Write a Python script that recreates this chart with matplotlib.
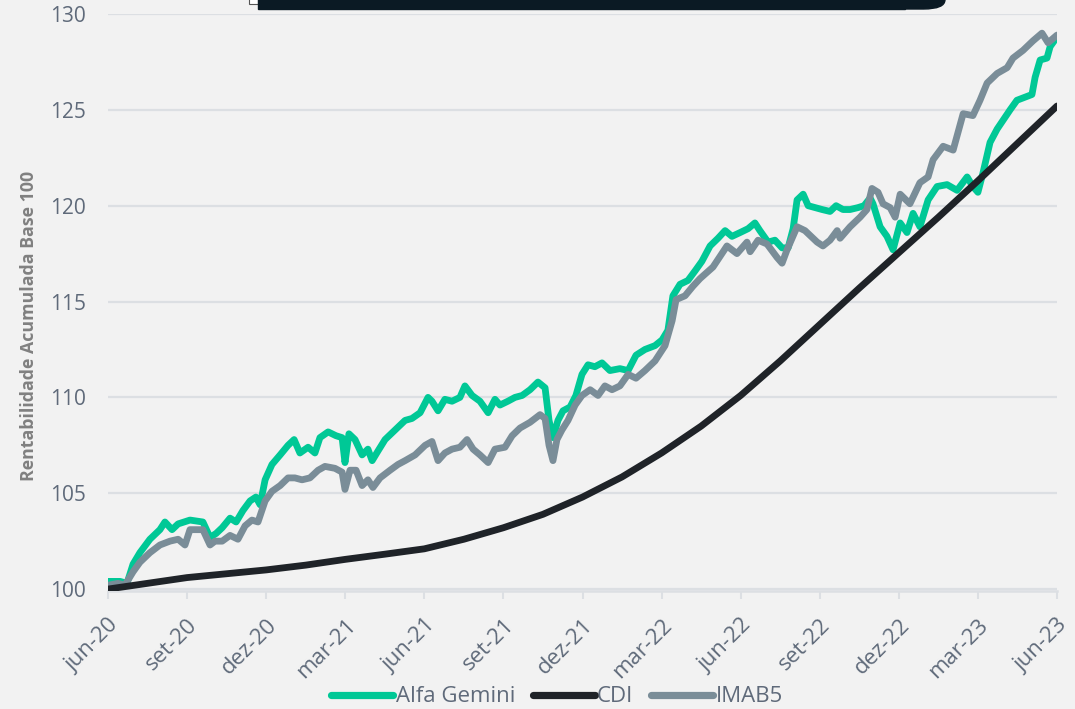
import matplotlib
matplotlib.use("Agg")
import matplotlib.pyplot as plt
from matplotlib.patches import Rectangle, FancyBboxPatch

# ---------------- data (months since jun-20) ----------------
gemini_t = [0, 0.46, 0.72, 0.95, 1.21, 1.59, 1.97, 2.16, 2.43, 2.66, 3.11, 3.60, 3.87, 4.10, 4.33,
            4.63, 4.86, 5.12, 5.39, 5.61, 5.77, 5.96, 6.22, 6.53, 6.83, 7.06, 7.28, 7.59, 7.85,
            8.04, 8.35, 8.65, 8.88, 8.99, 9.14, 9.37, 9.64, 9.86, 10.02, 10.24, 10.51, 10.89,
            11.27, 11.53, 11.84, 12.14, 12.29, 12.52, 12.78, 13.05, 13.35, 13.54, 13.81, 14.11,
            14.42, 14.68, 14.87, 15.17, 15.44, 15.71, 16.01, 16.31, 16.58, 16.73, 16.88, 17.07,
            17.26, 17.53, 17.75, 17.98, 18.21, 18.47, 18.74, 19.04, 19.42, 19.73, 20.03, 20.37,
            20.75, 21.02, 21.24, 21.43, 21.70, 22.00, 22.27, 22.53, 22.84, 23.14, 23.41, 23.67,
            23.98, 24.28, 24.54, 24.73, 25.04, 25.30, 25.57, 25.80, 25.99, 26.14, 26.37, 26.56,
            26.82, 27.09, 27.39, 27.62, 27.88, 28.15, 28.45, 28.68, 28.91, 29.02, 29.29, 29.55,
            29.78, 30.05, 30.31, 30.54, 30.80, 31.11, 31.45, 31.83, 32.21, 32.59, 32.81, 33.00,
            33.19, 33.46, 33.73, 34.22, 34.48, 34.86, 35.05, 35.17, 35.36, 35.62, 35.74, 36.00]
gemini_v = [100.4, 100.4, 100.3, 101.3, 101.9, 102.6, 103.1, 103.5, 103.1, 103.4, 103.6, 103.5,
            102.7, 102.9, 103.2, 103.7, 103.5, 104.1, 104.6, 104.8, 104.4, 105.7, 106.5, 107.0,
            107.5, 107.8, 107.1, 107.4, 107.1, 107.9, 108.2, 108.0, 107.9, 106.6, 108.1, 107.8,
            107.0, 107.3, 106.7, 107.2, 107.8, 108.3, 108.8, 108.9, 109.2, 110.0, 109.8, 109.3,
            109.9, 109.8, 110.0, 110.6, 110.1, 109.8, 109.2, 109.9, 109.6, 109.8, 110.0, 110.1,
            110.4, 110.8, 110.5, 108.8, 107.9, 108.8, 109.3, 109.5, 110.1, 111.2, 111.7, 111.6,
            111.8, 111.4, 111.5, 111.4, 112.2, 112.5, 112.7, 113.0, 113.5, 115.3, 115.9, 116.1,
            116.6, 117.1, 117.9, 118.3, 118.7, 118.4, 118.6, 118.8, 119.1, 118.7, 118.1, 118.2,
            117.8, 117.8, 118.8, 120.3, 120.6, 120.0, 119.9, 119.8, 119.7, 120.0, 119.8, 119.8,
            119.9, 120.0, 120.4, 120.1, 118.9, 118.4, 117.7, 119.1, 118.6, 119.6, 118.9, 120.3,
            121.0, 121.1, 120.8, 121.5, 121.0, 120.7, 121.7, 123.3, 124.0, 125.0, 125.5, 125.7,
            125.8, 126.7, 127.6, 127.7, 128.3, 128.8]

cdi_t = [0, 1.5, 3, 4.5, 6, 7.5, 9, 10.5, 12, 13.5, 15, 16.5, 18, 19.5, 21, 22.5, 24, 25.5,
         27, 28.5, 30, 31.5, 33, 34.5, 36]
cdi_v = [100.0, 100.3, 100.6, 100.8, 101.0, 101.25, 101.55, 101.82, 102.1, 102.6, 103.2, 103.9,
         104.8, 105.85, 107.1, 108.5, 110.1, 111.9, 113.8, 115.7, 117.55, 119.4, 121.3, 123.25,
         125.2]

imab5_t = [0, 0.38, 0.64, 0.95, 1.21, 1.59, 1.97, 2.35, 2.66, 2.92, 3.11, 3.60, 3.87, 4.06, 4.33,
           4.63, 4.93, 5.20, 5.46, 5.69, 5.96, 6.22, 6.53, 6.83, 7.09, 7.36, 7.66, 7.97, 8.23,
           8.61, 8.88, 8.99, 9.18, 9.41, 9.64, 9.86, 10.05, 10.32, 10.70, 11.00, 11.27, 11.65,
           12.03, 12.29, 12.52, 12.78, 13.05, 13.35, 13.62, 13.85, 14.11, 14.42, 14.68, 15.06,
           15.33, 15.63, 16.01, 16.39, 16.58, 16.73, 16.88, 17.03, 17.22, 17.45, 17.72, 17.98,
           18.29, 18.59, 18.85, 19.12, 19.42, 19.73, 20.03, 20.37, 20.75, 21.13, 21.40, 21.55,
           21.89, 22.19, 22.46, 22.95, 23.48, 23.86, 24.24, 24.36, 24.66, 25.00, 25.38, 25.57,
           25.76, 26.14, 26.44, 26.90, 27.12, 27.39, 27.66, 27.77, 28.15, 28.53, 28.79, 28.98,
           29.21, 29.40, 29.67, 29.86, 30.05, 30.42, 30.80, 31.11, 31.30, 31.68, 32.06, 32.44,
           32.81, 33.08, 33.35, 33.73, 34.11, 34.33, 34.71, 35.09, 35.43, 35.66, 36.00]
imab5_v = [100.2, 100.3, 100.2, 100.9, 101.4, 101.9, 102.3, 102.5, 102.6, 102.3, 103.1, 103.1,
           102.3, 102.5, 102.5, 102.8, 102.6, 103.3, 103.6, 103.5, 104.6, 105.1, 105.4, 105.8,
           105.8, 105.7, 105.8, 106.2, 106.4, 106.3, 106.1, 105.2, 106.2, 106.2, 105.4, 105.7,
           105.3, 105.8, 106.2, 106.5, 106.7, 107.0, 107.5, 107.7, 106.7, 107.1, 107.3, 107.4,
           107.8, 107.3, 107.0, 106.6, 107.3, 107.4, 108.0, 108.4, 108.7, 109.1, 108.9, 107.5,
           106.7, 107.8, 108.3, 108.8, 109.6, 110.1, 110.4, 110.1, 110.6, 110.4, 110.6, 111.2,
           111.0, 111.4, 111.9, 112.7, 114.0, 115.1, 115.3, 115.8, 116.2, 116.8, 117.9, 117.5,
           118.1, 117.6, 118.2, 118.0, 117.3, 117.0, 117.7, 118.9, 118.7, 118.1, 117.9, 118.2,
           118.7, 118.3, 118.9, 119.4, 119.8, 120.9, 120.7, 120.1, 119.9, 119.4, 120.6, 120.1,
           121.2, 121.5, 122.4, 123.1, 122.9, 124.8, 124.7, 125.5, 126.4, 126.9, 127.2, 127.7,
           128.1, 128.6, 129.0, 128.5, 128.9]

tick_pos = [0, 3, 6, 9, 12, 15, 18, 21, 24, 27, 30, 33, 36]
tick_labels = ["jun-20", "set-20", "dez-20", "mar-21", "jun-21", "set-21", "dez-21",
               "mar-22", "jun-22", "set-22", "dez-22", "mar-23", "jun-23"]
y_ticks = [100, 105, 110, 115, 120, 125, 130]

# ---------------- style ----------------
BG = "#f2f2f2"
GREEN = "#00c896"
BLACK = "#1f2328"
GRAY = "#7a8d98"
TXT = "#5f6a7a"
GRID = "#dcdfe3"
plt.rcParams["font.family"] = ["Open Sans", "DejaVu Sans"]

W, H = 1075, 709
fig = plt.figure(figsize=(W / 100, H / 100), dpi=100, facecolor=BG)
ax = fig.add_axes([108 / W, 1 - 591 / H, (1057 - 108) / W, (591 - 14) / H])
ax.set_facecolor(BG)

lw = 4.9
kw = dict(solid_capstyle="round", solid_joinstyle="round", lw=lw)
ax.plot(gemini_t, gemini_v, color=GREEN, label="Alfa Gemini", zorder=3, **kw)
ax.plot(cdi_t, cdi_v, color=BLACK, label="CDI", zorder=5, **kw)
ax.plot(imab5_t, imab5_v, color=GRAY, label="IMAB5", zorder=4, **kw)

ax.set_xlim(0, 36)
ax.set_ylim(99.9, 130)
ax.set_yticks(y_ticks)
ax.set_xticks(tick_pos)
ax.set_xticklabels(tick_labels, rotation=45, ha="right", rotation_mode="anchor")
ax.grid(axis="y", color=GRID, lw=1.6, zorder=0)
ax.set_axisbelow(True)
for s in ["top", "right", "left"]:
    ax.spines[s].set_visible(False)
ax.spines["bottom"].set_color(GRID)
ax.spines["bottom"].set_linewidth(1.8)
ax.tick_params(axis="y", length=0, pad=16, labelsize=15, labelcolor=TXT)
ax.tick_params(axis="x", length=6, width=1.5, color=GRID, pad=11, labelsize=16, labelcolor=TXT)

ax.set_ylabel("Rentabilidade Acumulada Base 100", fontsize=12.8, fontweight="bold", color="#808080")
ax.yaxis.set_label_coords(-0.074, 0.46)

leg = fig.legend(loc="center", bbox_to_anchor=(557 / W, 1 - 697 / H), ncol=3, frameon=False,
                 fontsize=16, handlelength=2.8, handletextpad=0.1, columnspacing=0.8,
                 labelcolor=TXT)
for h in leg.get_lines():
    h.set_linewidth(5.2)
    h.set_solid_capstyle("round")

# top banner (cropped header box)
fig.patches.append(Rectangle((258 / W, 1 - 9 / H), (905 - 258) / W, 30 / H,
                             transform=fig.transFigure, color="#0b1a24", zorder=10))
fig.patches.append(FancyBboxPatch((860 / W, 1 - 9 / H), (945 - 860) / W, 30 / H,
                                  boxstyle="round,pad=0,rounding_size=0.02",
                                  mutation_aspect=H / W,
                                  transform=fig.transFigure, color="#0b1a24", zorder=10))
fig.patches.append(Rectangle((249 / W, 1 - 4 / H), 9 / W, 10 / H, transform=fig.transFigure,
                             facecolor="white", edgecolor="#555555", lw=0.8, zorder=9))

fig.savefig("out.png", dpi=100, facecolor=BG)
